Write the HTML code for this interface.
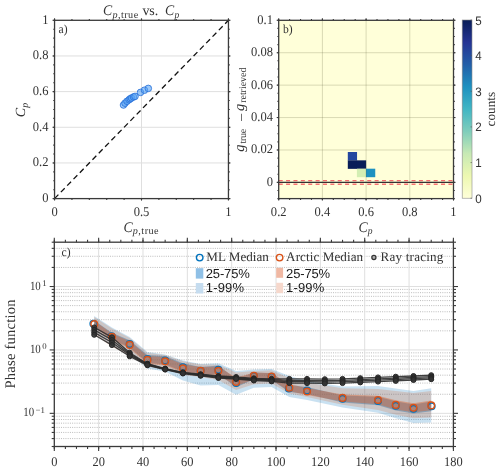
<!DOCTYPE html>
<html><head><meta charset="utf-8"><title>Figure</title>
<style>
html,body{margin:0;padding:0;background:#fff;}
body{width:500px;height:471px;overflow:hidden;font-family:"Liberation Serif",serif;}
svg{display:block;will-change:transform;text-rendering:geometricPrecision;}
</style></head><body>
<svg width="500" height="471" viewBox="0 0 500 471">
<rect width="500" height="471" fill="#fff"/>
<rect x="54.55" y="20.3" width="173.89999999999998" height="178.29999999999998" fill="#fff"/>
<line x1="54.55" y1="162.94" x2="228.45" y2="162.94" stroke="#dfdfdf" stroke-width="1" />
<line x1="54.55" y1="127.28" x2="228.45" y2="127.28" stroke="#dfdfdf" stroke-width="1" />
<line x1="54.55" y1="91.62" x2="228.45" y2="91.62" stroke="#dfdfdf" stroke-width="1" />
<line x1="54.55" y1="55.96" x2="228.45" y2="55.96" stroke="#dfdfdf" stroke-width="1" />
<line x1="141.50" y1="20.30" x2="141.50" y2="198.60" stroke="#dfdfdf" stroke-width="1" />
<line x1="54.55" y1="198.60" x2="228.45" y2="20.30" stroke="#111" stroke-width="1.3" stroke-dasharray="5.5 3.55"/>
<circle cx="123.5" cy="105" r="3.3" fill="#58a3f5" fill-opacity="0.6" stroke="#2c74da" stroke-opacity="0.9" stroke-width="0.95"/>
<circle cx="125" cy="103.2" r="3.3" fill="#58a3f5" fill-opacity="0.6" stroke="#2c74da" stroke-opacity="0.9" stroke-width="0.95"/>
<circle cx="127" cy="101.3" r="3.3" fill="#58a3f5" fill-opacity="0.6" stroke="#2c74da" stroke-opacity="0.9" stroke-width="0.95"/>
<circle cx="129" cy="99.8" r="3.3" fill="#58a3f5" fill-opacity="0.6" stroke="#2c74da" stroke-opacity="0.9" stroke-width="0.95"/>
<circle cx="130.2" cy="98.8" r="3.3" fill="#58a3f5" fill-opacity="0.6" stroke="#2c74da" stroke-opacity="0.9" stroke-width="0.95"/>
<circle cx="131.5" cy="98" r="3.3" fill="#58a3f5" fill-opacity="0.6" stroke="#2c74da" stroke-opacity="0.9" stroke-width="0.95"/>
<circle cx="133.5" cy="97" r="3.3" fill="#58a3f5" fill-opacity="0.6" stroke="#2c74da" stroke-opacity="0.9" stroke-width="0.95"/>
<circle cx="135" cy="96.4" r="3.3" fill="#58a3f5" fill-opacity="0.6" stroke="#2c74da" stroke-opacity="0.9" stroke-width="0.95"/>
<circle cx="140.5" cy="92.4" r="3.3" fill="#58a3f5" fill-opacity="0.6" stroke="#2c74da" stroke-opacity="0.9" stroke-width="0.95"/>
<circle cx="144.5" cy="90.2" r="3.3" fill="#58a3f5" fill-opacity="0.6" stroke="#2c74da" stroke-opacity="0.9" stroke-width="0.95"/>
<circle cx="148.3" cy="88.4" r="3.3" fill="#58a3f5" fill-opacity="0.6" stroke="#2c74da" stroke-opacity="0.9" stroke-width="0.95"/>
<line x1="54.55" y1="198.60" x2="54.55" y2="199.90" stroke="#3a3a3a" stroke-width="1.1" />
<line x1="54.55" y1="20.30" x2="54.55" y2="19.00" stroke="#3a3a3a" stroke-width="1.1" />
<line x1="71.94" y1="198.60" x2="71.94" y2="199.90" stroke="#3a3a3a" stroke-width="1.1" />
<line x1="71.94" y1="20.30" x2="71.94" y2="19.00" stroke="#3a3a3a" stroke-width="1.1" />
<line x1="89.33" y1="198.60" x2="89.33" y2="199.90" stroke="#3a3a3a" stroke-width="1.1" />
<line x1="89.33" y1="20.30" x2="89.33" y2="19.00" stroke="#3a3a3a" stroke-width="1.1" />
<line x1="106.72" y1="198.60" x2="106.72" y2="199.90" stroke="#3a3a3a" stroke-width="1.1" />
<line x1="106.72" y1="20.30" x2="106.72" y2="19.00" stroke="#3a3a3a" stroke-width="1.1" />
<line x1="124.11" y1="198.60" x2="124.11" y2="199.90" stroke="#3a3a3a" stroke-width="1.1" />
<line x1="124.11" y1="20.30" x2="124.11" y2="19.00" stroke="#3a3a3a" stroke-width="1.1" />
<line x1="141.50" y1="198.60" x2="141.50" y2="199.90" stroke="#3a3a3a" stroke-width="1.1" />
<line x1="141.50" y1="20.30" x2="141.50" y2="19.00" stroke="#3a3a3a" stroke-width="1.1" />
<line x1="158.89" y1="198.60" x2="158.89" y2="199.90" stroke="#3a3a3a" stroke-width="1.1" />
<line x1="158.89" y1="20.30" x2="158.89" y2="19.00" stroke="#3a3a3a" stroke-width="1.1" />
<line x1="176.28" y1="198.60" x2="176.28" y2="199.90" stroke="#3a3a3a" stroke-width="1.1" />
<line x1="176.28" y1="20.30" x2="176.28" y2="19.00" stroke="#3a3a3a" stroke-width="1.1" />
<line x1="193.67" y1="198.60" x2="193.67" y2="199.90" stroke="#3a3a3a" stroke-width="1.1" />
<line x1="193.67" y1="20.30" x2="193.67" y2="19.00" stroke="#3a3a3a" stroke-width="1.1" />
<line x1="211.06" y1="198.60" x2="211.06" y2="199.90" stroke="#3a3a3a" stroke-width="1.1" />
<line x1="211.06" y1="20.30" x2="211.06" y2="19.00" stroke="#3a3a3a" stroke-width="1.1" />
<line x1="228.45" y1="198.60" x2="228.45" y2="199.90" stroke="#3a3a3a" stroke-width="1.1" />
<line x1="228.45" y1="20.30" x2="228.45" y2="19.00" stroke="#3a3a3a" stroke-width="1.1" />
<line x1="54.55" y1="198.60" x2="54.55" y2="200.60" stroke="#3a3a3a" stroke-width="1.1" />
<line x1="54.55" y1="20.30" x2="54.55" y2="18.30" stroke="#3a3a3a" stroke-width="1.1" />
<line x1="141.50" y1="198.60" x2="141.50" y2="200.60" stroke="#3a3a3a" stroke-width="1.1" />
<line x1="141.50" y1="20.30" x2="141.50" y2="18.30" stroke="#3a3a3a" stroke-width="1.1" />
<line x1="228.45" y1="198.60" x2="228.45" y2="200.60" stroke="#3a3a3a" stroke-width="1.1" />
<line x1="228.45" y1="20.30" x2="228.45" y2="18.30" stroke="#3a3a3a" stroke-width="1.1" />
<line x1="54.55" y1="198.60" x2="53.25" y2="198.60" stroke="#3a3a3a" stroke-width="1.1" />
<line x1="228.45" y1="198.60" x2="229.75" y2="198.60" stroke="#3a3a3a" stroke-width="1.1" />
<line x1="54.55" y1="189.69" x2="53.25" y2="189.69" stroke="#3a3a3a" stroke-width="1.1" />
<line x1="228.45" y1="189.69" x2="229.75" y2="189.69" stroke="#3a3a3a" stroke-width="1.1" />
<line x1="54.55" y1="180.77" x2="53.25" y2="180.77" stroke="#3a3a3a" stroke-width="1.1" />
<line x1="228.45" y1="180.77" x2="229.75" y2="180.77" stroke="#3a3a3a" stroke-width="1.1" />
<line x1="54.55" y1="171.85" x2="53.25" y2="171.85" stroke="#3a3a3a" stroke-width="1.1" />
<line x1="228.45" y1="171.85" x2="229.75" y2="171.85" stroke="#3a3a3a" stroke-width="1.1" />
<line x1="54.55" y1="162.94" x2="53.25" y2="162.94" stroke="#3a3a3a" stroke-width="1.1" />
<line x1="228.45" y1="162.94" x2="229.75" y2="162.94" stroke="#3a3a3a" stroke-width="1.1" />
<line x1="54.55" y1="154.03" x2="53.25" y2="154.03" stroke="#3a3a3a" stroke-width="1.1" />
<line x1="228.45" y1="154.03" x2="229.75" y2="154.03" stroke="#3a3a3a" stroke-width="1.1" />
<line x1="54.55" y1="145.11" x2="53.25" y2="145.11" stroke="#3a3a3a" stroke-width="1.1" />
<line x1="228.45" y1="145.11" x2="229.75" y2="145.11" stroke="#3a3a3a" stroke-width="1.1" />
<line x1="54.55" y1="136.19" x2="53.25" y2="136.19" stroke="#3a3a3a" stroke-width="1.1" />
<line x1="228.45" y1="136.19" x2="229.75" y2="136.19" stroke="#3a3a3a" stroke-width="1.1" />
<line x1="54.55" y1="127.28" x2="53.25" y2="127.28" stroke="#3a3a3a" stroke-width="1.1" />
<line x1="228.45" y1="127.28" x2="229.75" y2="127.28" stroke="#3a3a3a" stroke-width="1.1" />
<line x1="54.55" y1="118.36" x2="53.25" y2="118.36" stroke="#3a3a3a" stroke-width="1.1" />
<line x1="228.45" y1="118.36" x2="229.75" y2="118.36" stroke="#3a3a3a" stroke-width="1.1" />
<line x1="54.55" y1="109.45" x2="53.25" y2="109.45" stroke="#3a3a3a" stroke-width="1.1" />
<line x1="228.45" y1="109.45" x2="229.75" y2="109.45" stroke="#3a3a3a" stroke-width="1.1" />
<line x1="54.55" y1="100.53" x2="53.25" y2="100.53" stroke="#3a3a3a" stroke-width="1.1" />
<line x1="228.45" y1="100.53" x2="229.75" y2="100.53" stroke="#3a3a3a" stroke-width="1.1" />
<line x1="54.55" y1="91.62" x2="53.25" y2="91.62" stroke="#3a3a3a" stroke-width="1.1" />
<line x1="228.45" y1="91.62" x2="229.75" y2="91.62" stroke="#3a3a3a" stroke-width="1.1" />
<line x1="54.55" y1="82.70" x2="53.25" y2="82.70" stroke="#3a3a3a" stroke-width="1.1" />
<line x1="228.45" y1="82.70" x2="229.75" y2="82.70" stroke="#3a3a3a" stroke-width="1.1" />
<line x1="54.55" y1="73.79" x2="53.25" y2="73.79" stroke="#3a3a3a" stroke-width="1.1" />
<line x1="228.45" y1="73.79" x2="229.75" y2="73.79" stroke="#3a3a3a" stroke-width="1.1" />
<line x1="54.55" y1="64.88" x2="53.25" y2="64.88" stroke="#3a3a3a" stroke-width="1.1" />
<line x1="228.45" y1="64.88" x2="229.75" y2="64.88" stroke="#3a3a3a" stroke-width="1.1" />
<line x1="54.55" y1="55.96" x2="53.25" y2="55.96" stroke="#3a3a3a" stroke-width="1.1" />
<line x1="228.45" y1="55.96" x2="229.75" y2="55.96" stroke="#3a3a3a" stroke-width="1.1" />
<line x1="54.55" y1="47.05" x2="53.25" y2="47.05" stroke="#3a3a3a" stroke-width="1.1" />
<line x1="228.45" y1="47.05" x2="229.75" y2="47.05" stroke="#3a3a3a" stroke-width="1.1" />
<line x1="54.55" y1="38.13" x2="53.25" y2="38.13" stroke="#3a3a3a" stroke-width="1.1" />
<line x1="228.45" y1="38.13" x2="229.75" y2="38.13" stroke="#3a3a3a" stroke-width="1.1" />
<line x1="54.55" y1="29.22" x2="53.25" y2="29.22" stroke="#3a3a3a" stroke-width="1.1" />
<line x1="228.45" y1="29.22" x2="229.75" y2="29.22" stroke="#3a3a3a" stroke-width="1.1" />
<line x1="54.55" y1="20.30" x2="53.25" y2="20.30" stroke="#3a3a3a" stroke-width="1.1" />
<line x1="228.45" y1="20.30" x2="229.75" y2="20.30" stroke="#3a3a3a" stroke-width="1.1" />
<line x1="54.55" y1="198.60" x2="52.55" y2="198.60" stroke="#3a3a3a" stroke-width="1.1" />
<line x1="228.45" y1="198.60" x2="230.45" y2="198.60" stroke="#3a3a3a" stroke-width="1.1" />
<line x1="54.55" y1="162.94" x2="52.55" y2="162.94" stroke="#3a3a3a" stroke-width="1.1" />
<line x1="228.45" y1="162.94" x2="230.45" y2="162.94" stroke="#3a3a3a" stroke-width="1.1" />
<line x1="54.55" y1="127.28" x2="52.55" y2="127.28" stroke="#3a3a3a" stroke-width="1.1" />
<line x1="228.45" y1="127.28" x2="230.45" y2="127.28" stroke="#3a3a3a" stroke-width="1.1" />
<line x1="54.55" y1="91.62" x2="52.55" y2="91.62" stroke="#3a3a3a" stroke-width="1.1" />
<line x1="228.45" y1="91.62" x2="230.45" y2="91.62" stroke="#3a3a3a" stroke-width="1.1" />
<line x1="54.55" y1="55.96" x2="52.55" y2="55.96" stroke="#3a3a3a" stroke-width="1.1" />
<line x1="228.45" y1="55.96" x2="230.45" y2="55.96" stroke="#3a3a3a" stroke-width="1.1" />
<line x1="54.55" y1="20.30" x2="52.55" y2="20.30" stroke="#3a3a3a" stroke-width="1.1" />
<line x1="228.45" y1="20.30" x2="230.45" y2="20.30" stroke="#3a3a3a" stroke-width="1.1" />
<rect x="54.55" y="20.3" width="173.89999999999998" height="178.29999999999998" fill="none" stroke="#3a3a3a" stroke-width="1.3"/>
<text transform="translate(48.50,202.10) scale(0.9434,1)" font-size="13.3" text-anchor="end" font-family="Liberation Serif, serif" fill="#333333" >0</text>
<text transform="translate(48.50,166.44) scale(0.9434,1)" font-size="13.3" text-anchor="end" font-family="Liberation Serif, serif" fill="#333333" >0.2</text>
<text transform="translate(48.50,130.78) scale(0.9434,1)" font-size="13.3" text-anchor="end" font-family="Liberation Serif, serif" fill="#333333" >0.4</text>
<text transform="translate(48.50,95.12) scale(0.9434,1)" font-size="13.3" text-anchor="end" font-family="Liberation Serif, serif" fill="#333333" >0.6</text>
<text transform="translate(48.50,59.46) scale(0.9434,1)" font-size="13.3" text-anchor="end" font-family="Liberation Serif, serif" fill="#333333" >0.8</text>
<text transform="translate(48.50,23.80) scale(0.9434,1)" font-size="13.3" text-anchor="end" font-family="Liberation Serif, serif" fill="#333333" >1</text>
<text transform="translate(54.55,215.80) scale(0.9434,1)" font-size="13.3" text-anchor="middle" font-family="Liberation Serif, serif" fill="#333333" >0</text>
<text transform="translate(141.50,215.80) scale(0.9434,1)" font-size="13.3" text-anchor="middle" font-family="Liberation Serif, serif" fill="#333333" >0.5</text>
<text transform="translate(228.45,215.80) scale(0.9434,1)" font-size="13.3" text-anchor="middle" font-family="Liberation Serif, serif" fill="#333333" >1</text>
<text transform="translate(58.50,32.80) scale(0.9434,1)" font-size="12.3" text-anchor="start" font-family="Liberation Serif, serif" fill="#333333" >a)</text>
<text transform="translate(103.00,15.40) scale(0.9434,1)" font-size="14.6" text-anchor="start" font-family="Liberation Serif, serif" fill="#333333" font-style="italic">C</text>
<text x="112.4" y="18" font-size="10.2" font-family="Liberation Serif, serif" fill="#333333" textLength="25.8" lengthAdjust="spacing"><tspan font-style="italic">p</tspan>,true</text>
<text x="142.4" y="15.4" font-size="14" font-family="Liberation Serif, serif" fill="#333333" textLength="15.8" lengthAdjust="spacing">vs.</text>
<text transform="translate(165.00,15.40) scale(0.9434,1)" font-size="14.6" text-anchor="start" font-family="Liberation Serif, serif" fill="#333333" font-style="italic">C</text>
<text transform="translate(174.40,18.00) scale(0.9434,1)" font-size="10.2" text-anchor="start" font-family="Liberation Serif, serif" fill="#333333" font-style="italic">p</text>
<text transform="translate(123.40,231.50) scale(0.9434,1)" font-size="14.6" text-anchor="start" font-family="Liberation Serif, serif" fill="#333333" font-style="italic">C</text>
<text x="132.8" y="234.1" font-size="10.2" font-family="Liberation Serif, serif" fill="#333333" textLength="25.8" lengthAdjust="spacing"><tspan font-style="italic">p</tspan>,true</text>
<text transform="translate(25,110) rotate(-90)" font-size="14" text-anchor="middle" font-family="Liberation Serif, serif" fill="#333333"><tspan font-style="italic">C</tspan><tspan font-size="10" dy="2.6" font-style="italic">p</tspan></text>
<rect x="278.7" y="20.3" width="174.8" height="178.29999999999998" fill="#ffffd9"/>
<rect x="347.80" y="152.00" width="9.25" height="8.5" fill="#24479f"/>
<rect x="347.80" y="160.35" width="9.25" height="8.5" fill="#081d58"/>
<rect x="356.90" y="160.35" width="9.25" height="8.5" fill="#081d58"/>
<rect x="356.90" y="168.70" width="9.25" height="8.5" fill="#d3eeb3"/>
<rect x="366.00" y="168.70" width="9.25" height="8.5" fill="#1d91c0"/>
<line x1="278.70" y1="182.39" x2="453.50" y2="182.39" stroke="#555533" stroke-width="1" stroke-opacity="0.22"/>
<line x1="278.70" y1="149.97" x2="453.50" y2="149.97" stroke="#555533" stroke-width="1" stroke-opacity="0.22"/>
<line x1="278.70" y1="117.55" x2="453.50" y2="117.55" stroke="#555533" stroke-width="1" stroke-opacity="0.22"/>
<line x1="278.70" y1="85.14" x2="453.50" y2="85.14" stroke="#555533" stroke-width="1" stroke-opacity="0.22"/>
<line x1="278.70" y1="52.72" x2="453.50" y2="52.72" stroke="#555533" stroke-width="1" stroke-opacity="0.22"/>
<line x1="322.40" y1="20.30" x2="322.40" y2="198.60" stroke="#555533" stroke-width="1" stroke-opacity="0.22"/>
<line x1="366.10" y1="20.30" x2="366.10" y2="198.60" stroke="#555533" stroke-width="1" stroke-opacity="0.22"/>
<line x1="409.80" y1="20.30" x2="409.80" y2="198.60" stroke="#555533" stroke-width="1" stroke-opacity="0.22"/>
<line x1="278.70" y1="180.69" x2="453.50" y2="180.69" stroke="#f56c6c" stroke-width="1.2" stroke-dasharray="4 3.38"/>
<line x1="278.70" y1="184.19" x2="453.50" y2="184.19" stroke="#f67474" stroke-width="1.6" stroke-dasharray="4 3.38"/>
<line x1="278.70" y1="182.39" x2="453.50" y2="182.39" stroke="#333" stroke-width="1.1" />
<line x1="278.70" y1="198.60" x2="278.70" y2="199.90" stroke="#3a3a3a" stroke-width="1.1" />
<line x1="278.70" y1="20.30" x2="278.70" y2="19.00" stroke="#3a3a3a" stroke-width="1.1" />
<line x1="289.62" y1="198.60" x2="289.62" y2="199.90" stroke="#3a3a3a" stroke-width="1.1" />
<line x1="289.62" y1="20.30" x2="289.62" y2="19.00" stroke="#3a3a3a" stroke-width="1.1" />
<line x1="300.55" y1="198.60" x2="300.55" y2="199.90" stroke="#3a3a3a" stroke-width="1.1" />
<line x1="300.55" y1="20.30" x2="300.55" y2="19.00" stroke="#3a3a3a" stroke-width="1.1" />
<line x1="311.48" y1="198.60" x2="311.48" y2="199.90" stroke="#3a3a3a" stroke-width="1.1" />
<line x1="311.48" y1="20.30" x2="311.48" y2="19.00" stroke="#3a3a3a" stroke-width="1.1" />
<line x1="322.40" y1="198.60" x2="322.40" y2="199.90" stroke="#3a3a3a" stroke-width="1.1" />
<line x1="322.40" y1="20.30" x2="322.40" y2="19.00" stroke="#3a3a3a" stroke-width="1.1" />
<line x1="333.32" y1="198.60" x2="333.32" y2="199.90" stroke="#3a3a3a" stroke-width="1.1" />
<line x1="333.32" y1="20.30" x2="333.32" y2="19.00" stroke="#3a3a3a" stroke-width="1.1" />
<line x1="344.25" y1="198.60" x2="344.25" y2="199.90" stroke="#3a3a3a" stroke-width="1.1" />
<line x1="344.25" y1="20.30" x2="344.25" y2="19.00" stroke="#3a3a3a" stroke-width="1.1" />
<line x1="355.18" y1="198.60" x2="355.18" y2="199.90" stroke="#3a3a3a" stroke-width="1.1" />
<line x1="355.18" y1="20.30" x2="355.18" y2="19.00" stroke="#3a3a3a" stroke-width="1.1" />
<line x1="366.10" y1="198.60" x2="366.10" y2="199.90" stroke="#3a3a3a" stroke-width="1.1" />
<line x1="366.10" y1="20.30" x2="366.10" y2="19.00" stroke="#3a3a3a" stroke-width="1.1" />
<line x1="377.02" y1="198.60" x2="377.02" y2="199.90" stroke="#3a3a3a" stroke-width="1.1" />
<line x1="377.02" y1="20.30" x2="377.02" y2="19.00" stroke="#3a3a3a" stroke-width="1.1" />
<line x1="387.95" y1="198.60" x2="387.95" y2="199.90" stroke="#3a3a3a" stroke-width="1.1" />
<line x1="387.95" y1="20.30" x2="387.95" y2="19.00" stroke="#3a3a3a" stroke-width="1.1" />
<line x1="398.88" y1="198.60" x2="398.88" y2="199.90" stroke="#3a3a3a" stroke-width="1.1" />
<line x1="398.88" y1="20.30" x2="398.88" y2="19.00" stroke="#3a3a3a" stroke-width="1.1" />
<line x1="409.80" y1="198.60" x2="409.80" y2="199.90" stroke="#3a3a3a" stroke-width="1.1" />
<line x1="409.80" y1="20.30" x2="409.80" y2="19.00" stroke="#3a3a3a" stroke-width="1.1" />
<line x1="420.73" y1="198.60" x2="420.73" y2="199.90" stroke="#3a3a3a" stroke-width="1.1" />
<line x1="420.73" y1="20.30" x2="420.73" y2="19.00" stroke="#3a3a3a" stroke-width="1.1" />
<line x1="431.65" y1="198.60" x2="431.65" y2="199.90" stroke="#3a3a3a" stroke-width="1.1" />
<line x1="431.65" y1="20.30" x2="431.65" y2="19.00" stroke="#3a3a3a" stroke-width="1.1" />
<line x1="442.58" y1="198.60" x2="442.58" y2="199.90" stroke="#3a3a3a" stroke-width="1.1" />
<line x1="442.58" y1="20.30" x2="442.58" y2="19.00" stroke="#3a3a3a" stroke-width="1.1" />
<line x1="453.50" y1="198.60" x2="453.50" y2="199.90" stroke="#3a3a3a" stroke-width="1.1" />
<line x1="453.50" y1="20.30" x2="453.50" y2="19.00" stroke="#3a3a3a" stroke-width="1.1" />
<line x1="278.70" y1="198.60" x2="278.70" y2="200.60" stroke="#3a3a3a" stroke-width="1.1" />
<line x1="278.70" y1="20.30" x2="278.70" y2="18.30" stroke="#3a3a3a" stroke-width="1.1" />
<line x1="322.40" y1="198.60" x2="322.40" y2="200.60" stroke="#3a3a3a" stroke-width="1.1" />
<line x1="322.40" y1="20.30" x2="322.40" y2="18.30" stroke="#3a3a3a" stroke-width="1.1" />
<line x1="366.10" y1="198.60" x2="366.10" y2="200.60" stroke="#3a3a3a" stroke-width="1.1" />
<line x1="366.10" y1="20.30" x2="366.10" y2="18.30" stroke="#3a3a3a" stroke-width="1.1" />
<line x1="409.80" y1="198.60" x2="409.80" y2="200.60" stroke="#3a3a3a" stroke-width="1.1" />
<line x1="409.80" y1="20.30" x2="409.80" y2="18.30" stroke="#3a3a3a" stroke-width="1.1" />
<line x1="453.50" y1="198.60" x2="453.50" y2="200.60" stroke="#3a3a3a" stroke-width="1.1" />
<line x1="453.50" y1="20.30" x2="453.50" y2="18.30" stroke="#3a3a3a" stroke-width="1.1" />
<line x1="278.70" y1="198.60" x2="277.40" y2="198.60" stroke="#3a3a3a" stroke-width="1.1" />
<line x1="453.50" y1="198.60" x2="454.80" y2="198.60" stroke="#3a3a3a" stroke-width="1.1" />
<line x1="278.70" y1="190.50" x2="277.40" y2="190.50" stroke="#3a3a3a" stroke-width="1.1" />
<line x1="453.50" y1="190.50" x2="454.80" y2="190.50" stroke="#3a3a3a" stroke-width="1.1" />
<line x1="278.70" y1="182.39" x2="277.40" y2="182.39" stroke="#3a3a3a" stroke-width="1.1" />
<line x1="453.50" y1="182.39" x2="454.80" y2="182.39" stroke="#3a3a3a" stroke-width="1.1" />
<line x1="278.70" y1="174.29" x2="277.40" y2="174.29" stroke="#3a3a3a" stroke-width="1.1" />
<line x1="453.50" y1="174.29" x2="454.80" y2="174.29" stroke="#3a3a3a" stroke-width="1.1" />
<line x1="278.70" y1="166.18" x2="277.40" y2="166.18" stroke="#3a3a3a" stroke-width="1.1" />
<line x1="453.50" y1="166.18" x2="454.80" y2="166.18" stroke="#3a3a3a" stroke-width="1.1" />
<line x1="278.70" y1="158.08" x2="277.40" y2="158.08" stroke="#3a3a3a" stroke-width="1.1" />
<line x1="453.50" y1="158.08" x2="454.80" y2="158.08" stroke="#3a3a3a" stroke-width="1.1" />
<line x1="278.70" y1="149.97" x2="277.40" y2="149.97" stroke="#3a3a3a" stroke-width="1.1" />
<line x1="453.50" y1="149.97" x2="454.80" y2="149.97" stroke="#3a3a3a" stroke-width="1.1" />
<line x1="278.70" y1="141.87" x2="277.40" y2="141.87" stroke="#3a3a3a" stroke-width="1.1" />
<line x1="453.50" y1="141.87" x2="454.80" y2="141.87" stroke="#3a3a3a" stroke-width="1.1" />
<line x1="278.70" y1="133.76" x2="277.40" y2="133.76" stroke="#3a3a3a" stroke-width="1.1" />
<line x1="453.50" y1="133.76" x2="454.80" y2="133.76" stroke="#3a3a3a" stroke-width="1.1" />
<line x1="278.70" y1="125.66" x2="277.40" y2="125.66" stroke="#3a3a3a" stroke-width="1.1" />
<line x1="453.50" y1="125.66" x2="454.80" y2="125.66" stroke="#3a3a3a" stroke-width="1.1" />
<line x1="278.70" y1="117.55" x2="277.40" y2="117.55" stroke="#3a3a3a" stroke-width="1.1" />
<line x1="453.50" y1="117.55" x2="454.80" y2="117.55" stroke="#3a3a3a" stroke-width="1.1" />
<line x1="278.70" y1="109.45" x2="277.40" y2="109.45" stroke="#3a3a3a" stroke-width="1.1" />
<line x1="453.50" y1="109.45" x2="454.80" y2="109.45" stroke="#3a3a3a" stroke-width="1.1" />
<line x1="278.70" y1="101.35" x2="277.40" y2="101.35" stroke="#3a3a3a" stroke-width="1.1" />
<line x1="453.50" y1="101.35" x2="454.80" y2="101.35" stroke="#3a3a3a" stroke-width="1.1" />
<line x1="278.70" y1="93.24" x2="277.40" y2="93.24" stroke="#3a3a3a" stroke-width="1.1" />
<line x1="453.50" y1="93.24" x2="454.80" y2="93.24" stroke="#3a3a3a" stroke-width="1.1" />
<line x1="278.70" y1="85.14" x2="277.40" y2="85.14" stroke="#3a3a3a" stroke-width="1.1" />
<line x1="453.50" y1="85.14" x2="454.80" y2="85.14" stroke="#3a3a3a" stroke-width="1.1" />
<line x1="278.70" y1="77.03" x2="277.40" y2="77.03" stroke="#3a3a3a" stroke-width="1.1" />
<line x1="453.50" y1="77.03" x2="454.80" y2="77.03" stroke="#3a3a3a" stroke-width="1.1" />
<line x1="278.70" y1="68.93" x2="277.40" y2="68.93" stroke="#3a3a3a" stroke-width="1.1" />
<line x1="453.50" y1="68.93" x2="454.80" y2="68.93" stroke="#3a3a3a" stroke-width="1.1" />
<line x1="278.70" y1="60.82" x2="277.40" y2="60.82" stroke="#3a3a3a" stroke-width="1.1" />
<line x1="453.50" y1="60.82" x2="454.80" y2="60.82" stroke="#3a3a3a" stroke-width="1.1" />
<line x1="278.70" y1="52.72" x2="277.40" y2="52.72" stroke="#3a3a3a" stroke-width="1.1" />
<line x1="453.50" y1="52.72" x2="454.80" y2="52.72" stroke="#3a3a3a" stroke-width="1.1" />
<line x1="278.70" y1="44.61" x2="277.40" y2="44.61" stroke="#3a3a3a" stroke-width="1.1" />
<line x1="453.50" y1="44.61" x2="454.80" y2="44.61" stroke="#3a3a3a" stroke-width="1.1" />
<line x1="278.70" y1="36.51" x2="277.40" y2="36.51" stroke="#3a3a3a" stroke-width="1.1" />
<line x1="453.50" y1="36.51" x2="454.80" y2="36.51" stroke="#3a3a3a" stroke-width="1.1" />
<line x1="278.70" y1="28.40" x2="277.40" y2="28.40" stroke="#3a3a3a" stroke-width="1.1" />
<line x1="453.50" y1="28.40" x2="454.80" y2="28.40" stroke="#3a3a3a" stroke-width="1.1" />
<line x1="278.70" y1="20.30" x2="277.40" y2="20.30" stroke="#3a3a3a" stroke-width="1.1" />
<line x1="453.50" y1="20.30" x2="454.80" y2="20.30" stroke="#3a3a3a" stroke-width="1.1" />
<line x1="278.70" y1="182.39" x2="276.70" y2="182.39" stroke="#3a3a3a" stroke-width="1.1" />
<line x1="453.50" y1="182.39" x2="455.50" y2="182.39" stroke="#3a3a3a" stroke-width="1.1" />
<line x1="278.70" y1="149.97" x2="276.70" y2="149.97" stroke="#3a3a3a" stroke-width="1.1" />
<line x1="453.50" y1="149.97" x2="455.50" y2="149.97" stroke="#3a3a3a" stroke-width="1.1" />
<line x1="278.70" y1="117.55" x2="276.70" y2="117.55" stroke="#3a3a3a" stroke-width="1.1" />
<line x1="453.50" y1="117.55" x2="455.50" y2="117.55" stroke="#3a3a3a" stroke-width="1.1" />
<line x1="278.70" y1="85.14" x2="276.70" y2="85.14" stroke="#3a3a3a" stroke-width="1.1" />
<line x1="453.50" y1="85.14" x2="455.50" y2="85.14" stroke="#3a3a3a" stroke-width="1.1" />
<line x1="278.70" y1="52.72" x2="276.70" y2="52.72" stroke="#3a3a3a" stroke-width="1.1" />
<line x1="453.50" y1="52.72" x2="455.50" y2="52.72" stroke="#3a3a3a" stroke-width="1.1" />
<line x1="278.70" y1="20.30" x2="276.70" y2="20.30" stroke="#3a3a3a" stroke-width="1.1" />
<line x1="453.50" y1="20.30" x2="455.50" y2="20.30" stroke="#3a3a3a" stroke-width="1.1" />
<rect x="278.7" y="20.3" width="174.8" height="178.29999999999998" fill="none" stroke="#3a3a3a" stroke-width="1.3"/>
<text transform="translate(273.00,185.89) scale(0.9434,1)" font-size="13.3" text-anchor="end" font-family="Liberation Serif, serif" fill="#333333" >0</text>
<text transform="translate(273.00,153.47) scale(0.9434,1)" font-size="13.3" text-anchor="end" font-family="Liberation Serif, serif" fill="#333333" >0.02</text>
<text transform="translate(273.00,121.05) scale(0.9434,1)" font-size="13.3" text-anchor="end" font-family="Liberation Serif, serif" fill="#333333" >0.04</text>
<text transform="translate(273.00,88.64) scale(0.9434,1)" font-size="13.3" text-anchor="end" font-family="Liberation Serif, serif" fill="#333333" >0.06</text>
<text transform="translate(273.00,56.22) scale(0.9434,1)" font-size="13.3" text-anchor="end" font-family="Liberation Serif, serif" fill="#333333" >0.08</text>
<text transform="translate(273.00,23.80) scale(0.9434,1)" font-size="13.3" text-anchor="end" font-family="Liberation Serif, serif" fill="#333333" >0.1</text>
<text transform="translate(278.70,215.80) scale(0.9434,1)" font-size="13.3" text-anchor="middle" font-family="Liberation Serif, serif" fill="#333333" >0.2</text>
<text transform="translate(322.40,215.80) scale(0.9434,1)" font-size="13.3" text-anchor="middle" font-family="Liberation Serif, serif" fill="#333333" >0.4</text>
<text transform="translate(366.10,215.80) scale(0.9434,1)" font-size="13.3" text-anchor="middle" font-family="Liberation Serif, serif" fill="#333333" >0.6</text>
<text transform="translate(409.80,215.80) scale(0.9434,1)" font-size="13.3" text-anchor="middle" font-family="Liberation Serif, serif" fill="#333333" >0.8</text>
<text transform="translate(453.50,215.80) scale(0.9434,1)" font-size="13.3" text-anchor="middle" font-family="Liberation Serif, serif" fill="#333333" >1</text>
<text transform="translate(283.00,32.80) scale(0.9434,1)" font-size="12.3" text-anchor="start" font-family="Liberation Serif, serif" fill="#333333" >b)</text>
<text transform="translate(358.40,231.50) scale(0.9434,1)" font-size="14.6" text-anchor="start" font-family="Liberation Serif, serif" fill="#333333" font-style="italic">C</text>
<text transform="translate(367.80,234.10) scale(0.9434,1)" font-size="10.2" text-anchor="start" font-family="Liberation Serif, serif" fill="#333333" font-style="italic">p</text>
<g transform="translate(243.8,110) rotate(-90)" font-family="Liberation Serif, serif" fill="#333333"><text x="-41.8" y="0" font-size="14.6" font-style="italic">g</text><text x="-33.6" y="2.6" font-size="10" textLength="14.8" lengthAdjust="spacing">true</text><text x="-11.8" y="2.4" font-size="14" textLength="8.7" lengthAdjust="spacingAndGlyphs">−</text><text x="-1" y="0" font-size="14.6" font-style="italic">g</text><text x="7.2" y="2.6" font-size="10" textLength="35.2" lengthAdjust="spacing">retrieved</text></g>
<defs><linearGradient id="cb" x1="0" y1="1" x2="0" y2="0">
<stop offset="0.0000" stop-color="#ffffd9"/>
<stop offset="0.1250" stop-color="#edf8b1"/>
<stop offset="0.2500" stop-color="#c7e9b4"/>
<stop offset="0.3750" stop-color="#7fcdbb"/>
<stop offset="0.5000" stop-color="#41b6c4"/>
<stop offset="0.6250" stop-color="#1d91c0"/>
<stop offset="0.7500" stop-color="#225ea8"/>
<stop offset="0.8750" stop-color="#253494"/>
<stop offset="1.0000" stop-color="#081d58"/>
</linearGradient></defs>
<rect x="462.2" y="20.0" width="9.800000000000011" height="178.2" fill="url(#cb)" stroke="#8a8a8a" stroke-width="0.6"/>
<text transform="translate(475.30,202.70) scale(0.9434,1)" font-size="12.3" text-anchor="start" font-family="Liberation Sans, sans-serif" fill="#333333" >0</text>
<line x1="470.50" y1="198.20" x2="472.00" y2="198.20" stroke="#555" stroke-width="0.6" />
<text transform="translate(475.30,167.06) scale(0.9434,1)" font-size="12.3" text-anchor="start" font-family="Liberation Sans, sans-serif" fill="#333333" >1</text>
<line x1="470.50" y1="162.56" x2="472.00" y2="162.56" stroke="#555" stroke-width="0.6" />
<text transform="translate(475.30,131.42) scale(0.9434,1)" font-size="12.3" text-anchor="start" font-family="Liberation Sans, sans-serif" fill="#333333" >2</text>
<line x1="470.50" y1="126.92" x2="472.00" y2="126.92" stroke="#555" stroke-width="0.6" />
<text transform="translate(475.30,95.78) scale(0.9434,1)" font-size="12.3" text-anchor="start" font-family="Liberation Sans, sans-serif" fill="#333333" >3</text>
<line x1="470.50" y1="91.28" x2="472.00" y2="91.28" stroke="#555" stroke-width="0.6" />
<text transform="translate(475.30,60.14) scale(0.9434,1)" font-size="12.3" text-anchor="start" font-family="Liberation Sans, sans-serif" fill="#333333" >4</text>
<line x1="470.50" y1="55.64" x2="472.00" y2="55.64" stroke="#555" stroke-width="0.6" />
<text transform="translate(475.30,24.50) scale(0.9434,1)" font-size="12.3" text-anchor="start" font-family="Liberation Sans, sans-serif" fill="#333333" >5</text>
<line x1="470.50" y1="20.00" x2="472.00" y2="20.00" stroke="#555" stroke-width="0.6" />
<text transform="translate(495.4,126.4) rotate(-90)" font-size="13.2" text-anchor="start" font-family="Liberation Serif, serif" fill="#333333" textLength="34.6" lengthAdjust="spacing">counts</text>
<rect x="54.3" y="242.2" width="399.09999999999997" height="204.3" fill="#fff"/>
<line x1="54.30" y1="438.58" x2="453.40" y2="438.58" stroke="#bcbcbc" stroke-width="1" stroke-dasharray="1 1.23"/>
<line x1="54.30" y1="432.43" x2="453.40" y2="432.43" stroke="#bcbcbc" stroke-width="1" stroke-dasharray="1 1.23"/>
<line x1="54.30" y1="427.41" x2="453.40" y2="427.41" stroke="#bcbcbc" stroke-width="1" stroke-dasharray="1 1.23"/>
<line x1="54.30" y1="423.17" x2="453.40" y2="423.17" stroke="#bcbcbc" stroke-width="1" stroke-dasharray="1 1.23"/>
<line x1="54.30" y1="419.49" x2="453.40" y2="419.49" stroke="#bcbcbc" stroke-width="1" stroke-dasharray="1 1.23"/>
<line x1="54.30" y1="416.25" x2="453.40" y2="416.25" stroke="#bcbcbc" stroke-width="1" stroke-dasharray="1 1.23"/>
<line x1="54.30" y1="394.26" x2="453.40" y2="394.26" stroke="#bcbcbc" stroke-width="1" stroke-dasharray="1 1.23"/>
<line x1="54.30" y1="383.09" x2="453.40" y2="383.09" stroke="#bcbcbc" stroke-width="1" stroke-dasharray="1 1.23"/>
<line x1="54.30" y1="375.17" x2="453.40" y2="375.17" stroke="#bcbcbc" stroke-width="1" stroke-dasharray="1 1.23"/>
<line x1="54.30" y1="369.02" x2="453.40" y2="369.02" stroke="#bcbcbc" stroke-width="1" stroke-dasharray="1 1.23"/>
<line x1="54.30" y1="364.00" x2="453.40" y2="364.00" stroke="#bcbcbc" stroke-width="1" stroke-dasharray="1 1.23"/>
<line x1="54.30" y1="359.76" x2="453.40" y2="359.76" stroke="#bcbcbc" stroke-width="1" stroke-dasharray="1 1.23"/>
<line x1="54.30" y1="356.08" x2="453.40" y2="356.08" stroke="#bcbcbc" stroke-width="1" stroke-dasharray="1 1.23"/>
<line x1="54.30" y1="352.83" x2="453.40" y2="352.83" stroke="#bcbcbc" stroke-width="1" stroke-dasharray="1 1.23"/>
<line x1="54.30" y1="330.84" x2="453.40" y2="330.84" stroke="#bcbcbc" stroke-width="1" stroke-dasharray="1 1.23"/>
<line x1="54.30" y1="319.68" x2="453.40" y2="319.68" stroke="#bcbcbc" stroke-width="1" stroke-dasharray="1 1.23"/>
<line x1="54.30" y1="311.76" x2="453.40" y2="311.76" stroke="#bcbcbc" stroke-width="1" stroke-dasharray="1 1.23"/>
<line x1="54.30" y1="305.61" x2="453.40" y2="305.61" stroke="#bcbcbc" stroke-width="1" stroke-dasharray="1 1.23"/>
<line x1="54.30" y1="300.59" x2="453.40" y2="300.59" stroke="#bcbcbc" stroke-width="1" stroke-dasharray="1 1.23"/>
<line x1="54.30" y1="296.34" x2="453.40" y2="296.34" stroke="#bcbcbc" stroke-width="1" stroke-dasharray="1 1.23"/>
<line x1="54.30" y1="292.67" x2="453.40" y2="292.67" stroke="#bcbcbc" stroke-width="1" stroke-dasharray="1 1.23"/>
<line x1="54.30" y1="289.42" x2="453.40" y2="289.42" stroke="#bcbcbc" stroke-width="1" stroke-dasharray="1 1.23"/>
<line x1="54.30" y1="267.43" x2="453.40" y2="267.43" stroke="#bcbcbc" stroke-width="1" stroke-dasharray="1 1.23"/>
<line x1="54.30" y1="256.27" x2="453.40" y2="256.27" stroke="#bcbcbc" stroke-width="1" stroke-dasharray="1 1.23"/>
<line x1="54.30" y1="248.35" x2="453.40" y2="248.35" stroke="#bcbcbc" stroke-width="1" stroke-dasharray="1 1.23"/>
<line x1="54.30" y1="413.34" x2="453.40" y2="413.34" stroke="#dfdfdf" stroke-width="1" />
<line x1="54.30" y1="349.93" x2="453.40" y2="349.93" stroke="#dfdfdf" stroke-width="1" />
<line x1="54.30" y1="286.52" x2="453.40" y2="286.52" stroke="#dfdfdf" stroke-width="1" />
<line x1="98.64" y1="242.20" x2="98.64" y2="446.50" stroke="#dfdfdf" stroke-width="1" />
<line x1="142.99" y1="242.20" x2="142.99" y2="446.50" stroke="#dfdfdf" stroke-width="1" />
<line x1="187.33" y1="242.20" x2="187.33" y2="446.50" stroke="#dfdfdf" stroke-width="1" />
<line x1="231.68" y1="242.20" x2="231.68" y2="446.50" stroke="#dfdfdf" stroke-width="1" />
<line x1="276.02" y1="242.20" x2="276.02" y2="446.50" stroke="#dfdfdf" stroke-width="1" />
<line x1="320.37" y1="242.20" x2="320.37" y2="446.50" stroke="#dfdfdf" stroke-width="1" />
<line x1="364.71" y1="242.20" x2="364.71" y2="446.50" stroke="#dfdfdf" stroke-width="1" />
<line x1="409.06" y1="242.20" x2="409.06" y2="446.50" stroke="#dfdfdf" stroke-width="1" />
<polygon points="94.21,316.00 111.95,327.50 129.69,337.00 147.42,352.00 165.16,354.50 182.90,360.50 200.64,364.00 218.37,363.30 236.11,371.00 253.85,369.60 271.59,368.90 289.33,376.10 307.06,381.00 342.54,386.60 378.01,386.00 395.75,388.50 413.49,391.00 431.23,388.20 431.23,422.50 413.49,423.00 395.75,418.30 378.01,412.70 342.54,407.60 307.06,399.90 289.33,397.10 271.59,387.10 253.85,387.80 236.11,394.80 218.37,385.00 200.64,385.50 182.90,380.60 165.16,371.50 147.42,368.50 129.69,354.00 111.95,346.00 94.21,333.00" fill="#0072bd" fill-opacity="0.21"/>
<polygon points="94.21,320.58 111.95,332.85 129.69,340.31 147.42,355.11 165.16,356.11 182.90,363.21 200.64,367.10 218.37,365.51 236.11,378.91 253.85,372.62 271.59,373.22 289.33,384.97 307.06,387.01 342.54,395.39 378.01,396.79 395.75,401.19 413.49,404.40 431.23,401.49 431.23,411.29 413.49,413.40 395.75,410.59 378.01,405.19 342.54,402.39 307.06,394.01 289.33,391.97 271.59,380.22 253.85,379.62 236.11,387.31 218.37,373.91 200.64,374.30 182.90,371.21 165.16,364.51 147.42,362.71 129.69,347.51 111.95,339.45 94.21,326.98" fill="#0072bd" fill-opacity="0.4"/>
<polygon points="94.21,317.00 111.95,328.50 129.69,338.00 147.42,353.00 165.16,355.00 182.90,361.20 200.64,364.60 218.37,364.70 236.11,372.40 253.85,371.00 271.59,370.30 289.33,378.00 307.06,382.40 342.54,388.20 378.01,388.90 395.75,391.00 413.49,393.10 431.23,391.00 431.23,417.60 413.49,418.30 395.75,414.80 378.01,410.00 342.54,404.80 307.06,397.10 289.33,393.60 271.59,383.60 253.85,384.30 236.11,389.90 218.37,380.10 200.64,377.00 182.90,375.00 165.16,368.50 147.42,367.00 129.69,355.00 111.95,347.00 94.21,334.00" fill="#d95319" fill-opacity="0.2"/>
<polygon points="94.21,320.80 111.95,333.40 129.69,341.30 147.42,356.10 165.16,357.10 182.90,364.20 200.64,367.10 218.37,366.50 236.11,377.70 253.85,372.40 271.59,373.00 289.33,384.20 307.06,388.00 342.54,394.40 378.01,395.80 395.75,400.20 413.49,403.30 431.23,400.50 431.23,410.30 413.49,412.30 395.75,409.60 378.01,404.20 342.54,401.40 307.06,395.00 289.33,391.20 271.59,380.00 253.85,379.40 236.11,386.10 218.37,374.90 200.64,374.30 182.90,372.20 165.16,365.50 147.42,363.70 129.69,348.50 111.95,340.00 94.21,327.20" fill="#d95319" fill-opacity="0.38"/>
<circle cx="93.41" cy="323.80" r="3.3" fill="none" stroke="#0072bd" stroke-width="1.45"/>
<circle cx="111.65" cy="336.20" r="3.3" fill="none" stroke="#0072bd" stroke-width="1.45"/>
<circle cx="129.69" cy="344.00" r="3.3" fill="none" stroke="#0072bd" stroke-width="1.45"/>
<circle cx="147.42" cy="359.00" r="3.3" fill="none" stroke="#0072bd" stroke-width="1.45"/>
<circle cx="165.16" cy="360.40" r="3.3" fill="none" stroke="#0072bd" stroke-width="1.45"/>
<circle cx="182.90" cy="367.30" r="3.3" fill="none" stroke="#0072bd" stroke-width="1.45"/>
<circle cx="200.64" cy="370.70" r="3.3" fill="none" stroke="#0072bd" stroke-width="1.45"/>
<circle cx="218.37" cy="369.80" r="3.3" fill="none" stroke="#0072bd" stroke-width="1.45"/>
<circle cx="236.11" cy="383.00" r="3.3" fill="none" stroke="#0072bd" stroke-width="1.45"/>
<circle cx="253.85" cy="376.10" r="3.3" fill="none" stroke="#0072bd" stroke-width="1.45"/>
<circle cx="271.59" cy="376.70" r="3.3" fill="none" stroke="#0072bd" stroke-width="1.45"/>
<circle cx="288.83" cy="388.40" r="3.3" fill="none" stroke="#0072bd" stroke-width="1.45"/>
<circle cx="307.06" cy="390.60" r="3.3" fill="none" stroke="#0072bd" stroke-width="1.45"/>
<circle cx="342.54" cy="398.80" r="3.3" fill="none" stroke="#0072bd" stroke-width="1.45"/>
<circle cx="378.01" cy="400.90" r="3.3" fill="none" stroke="#0072bd" stroke-width="1.45"/>
<circle cx="395.75" cy="405.80" r="3.3" fill="none" stroke="#0072bd" stroke-width="1.45"/>
<circle cx="413.49" cy="408.80" r="3.3" fill="none" stroke="#0072bd" stroke-width="1.45"/>
<circle cx="431.63" cy="406.30" r="3.3" fill="none" stroke="#0072bd" stroke-width="1.45"/>
<circle cx="94.21" cy="324.00" r="3.3" fill="none" stroke="#d95319" stroke-width="1.5"/>
<circle cx="111.95" cy="336.70" r="3.3" fill="none" stroke="#d95319" stroke-width="1.5"/>
<circle cx="129.69" cy="344.90" r="3.3" fill="none" stroke="#d95319" stroke-width="1.5"/>
<circle cx="147.42" cy="359.90" r="3.3" fill="none" stroke="#d95319" stroke-width="1.5"/>
<circle cx="165.16" cy="361.30" r="3.3" fill="none" stroke="#d95319" stroke-width="1.5"/>
<circle cx="182.90" cy="368.20" r="3.3" fill="none" stroke="#d95319" stroke-width="1.5"/>
<circle cx="200.64" cy="370.70" r="3.3" fill="none" stroke="#d95319" stroke-width="1.5"/>
<circle cx="218.37" cy="370.70" r="3.3" fill="none" stroke="#d95319" stroke-width="1.5"/>
<circle cx="236.11" cy="381.90" r="3.3" fill="none" stroke="#d95319" stroke-width="1.5"/>
<circle cx="253.85" cy="375.90" r="3.3" fill="none" stroke="#d95319" stroke-width="1.5"/>
<circle cx="271.59" cy="376.50" r="3.3" fill="none" stroke="#d95319" stroke-width="1.5"/>
<circle cx="289.33" cy="387.70" r="3.3" fill="none" stroke="#d95319" stroke-width="1.5"/>
<circle cx="307.06" cy="391.50" r="3.3" fill="none" stroke="#d95319" stroke-width="1.5"/>
<circle cx="342.54" cy="397.90" r="3.3" fill="none" stroke="#d95319" stroke-width="1.5"/>
<circle cx="378.01" cy="400.00" r="3.3" fill="none" stroke="#d95319" stroke-width="1.5"/>
<circle cx="395.75" cy="404.90" r="3.3" fill="none" stroke="#d95319" stroke-width="1.5"/>
<circle cx="413.49" cy="407.80" r="3.3" fill="none" stroke="#d95319" stroke-width="1.5"/>
<circle cx="431.23" cy="405.40" r="3.3" fill="none" stroke="#d95319" stroke-width="1.5"/>
<polyline points="94.21,327.40 111.95,337.30 129.69,352.70 147.42,363.70 165.16,368.60 182.90,372.30 200.64,374.20 218.37,376.00 236.11,377.00 253.85,378.30 271.59,378.80 289.33,378.90 307.06,378.90 324.80,379.20 342.54,378.90 360.28,378.20 378.01,377.40 395.75,376.70 413.49,376.00 431.23,375.20" fill="none" stroke="#2b2b2b" stroke-width="1.3" stroke-opacity="0.9" stroke-linejoin="round"/>
<polyline points="94.21,329.88 111.95,339.91 129.69,353.91 147.42,364.24 165.16,368.94 182.90,372.70 200.64,374.74 218.37,376.67 236.11,377.67 253.85,379.04 271.59,379.67 289.33,380.31 307.06,380.31 324.80,380.61 342.54,380.31 360.28,379.61 378.01,378.81 395.75,378.11 413.49,377.34 431.23,376.54" fill="none" stroke="#2b2b2b" stroke-width="1.3" stroke-opacity="0.9" stroke-linejoin="round"/>
<polyline points="94.21,332.32 111.95,342.49 129.69,355.09 147.42,364.76 165.16,369.27 182.90,373.10 200.64,375.26 218.37,377.33 236.11,378.33 253.85,379.76 271.59,380.53 289.33,381.69 307.06,381.69 324.80,381.99 342.54,381.69 360.28,380.99 378.01,380.19 395.75,379.49 413.49,378.66 431.23,377.86" fill="none" stroke="#2b2b2b" stroke-width="1.3" stroke-opacity="0.9" stroke-linejoin="round"/>
<polyline points="94.21,334.80 111.95,345.10 129.69,356.30 147.42,365.30 165.16,369.60 182.90,373.50 200.64,375.80 218.37,378.00 236.11,379.00 253.85,380.50 271.59,381.40 289.33,383.10 307.06,383.10 324.80,383.40 342.54,383.10 360.28,382.40 378.01,381.60 395.75,380.90 413.49,380.00 431.23,379.20" fill="none" stroke="#2b2b2b" stroke-width="1.3" stroke-opacity="0.9" stroke-linejoin="round"/>
<circle cx="94.21" cy="327.40" r="2.5" fill="#333" fill-opacity="0.9" stroke="#262626" stroke-width="1"/>
<circle cx="111.95" cy="337.30" r="2.5" fill="#333" fill-opacity="0.9" stroke="#262626" stroke-width="1"/>
<circle cx="129.69" cy="352.70" r="2.5" fill="#333" fill-opacity="0.9" stroke="#262626" stroke-width="1"/>
<circle cx="147.42" cy="363.70" r="2.5" fill="#333" fill-opacity="0.9" stroke="#262626" stroke-width="1"/>
<circle cx="165.16" cy="368.60" r="2.5" fill="#333" fill-opacity="0.9" stroke="#262626" stroke-width="1"/>
<circle cx="182.90" cy="372.30" r="2.5" fill="#333" fill-opacity="0.9" stroke="#262626" stroke-width="1"/>
<circle cx="200.64" cy="374.20" r="2.5" fill="#333" fill-opacity="0.9" stroke="#262626" stroke-width="1"/>
<circle cx="218.37" cy="376.00" r="2.5" fill="#333" fill-opacity="0.9" stroke="#262626" stroke-width="1"/>
<circle cx="236.11" cy="377.00" r="2.5" fill="#333" fill-opacity="0.9" stroke="#262626" stroke-width="1"/>
<circle cx="253.85" cy="378.30" r="2.5" fill="#333" fill-opacity="0.9" stroke="#262626" stroke-width="1"/>
<circle cx="271.59" cy="378.80" r="2.5" fill="#333" fill-opacity="0.9" stroke="#262626" stroke-width="1"/>
<circle cx="289.33" cy="378.90" r="2.5" fill="#333" fill-opacity="0.9" stroke="#262626" stroke-width="1"/>
<circle cx="307.06" cy="378.90" r="2.5" fill="#333" fill-opacity="0.9" stroke="#262626" stroke-width="1"/>
<circle cx="324.80" cy="379.20" r="2.5" fill="#333" fill-opacity="0.9" stroke="#262626" stroke-width="1"/>
<circle cx="342.54" cy="378.90" r="2.5" fill="#333" fill-opacity="0.9" stroke="#262626" stroke-width="1"/>
<circle cx="360.28" cy="378.20" r="2.5" fill="#333" fill-opacity="0.9" stroke="#262626" stroke-width="1"/>
<circle cx="378.01" cy="377.40" r="2.5" fill="#333" fill-opacity="0.9" stroke="#262626" stroke-width="1"/>
<circle cx="395.75" cy="376.70" r="2.5" fill="#333" fill-opacity="0.9" stroke="#262626" stroke-width="1"/>
<circle cx="413.49" cy="376.00" r="2.5" fill="#333" fill-opacity="0.9" stroke="#262626" stroke-width="1"/>
<circle cx="431.23" cy="375.20" r="2.5" fill="#333" fill-opacity="0.9" stroke="#262626" stroke-width="1"/>
<circle cx="94.21" cy="329.88" r="2.5" fill="#333" fill-opacity="0.9" stroke="#262626" stroke-width="1"/>
<circle cx="111.95" cy="339.91" r="2.5" fill="#333" fill-opacity="0.9" stroke="#262626" stroke-width="1"/>
<circle cx="129.69" cy="353.91" r="2.5" fill="#333" fill-opacity="0.9" stroke="#262626" stroke-width="1"/>
<circle cx="147.42" cy="364.24" r="2.5" fill="#333" fill-opacity="0.9" stroke="#262626" stroke-width="1"/>
<circle cx="165.16" cy="368.94" r="2.5" fill="#333" fill-opacity="0.9" stroke="#262626" stroke-width="1"/>
<circle cx="182.90" cy="372.70" r="2.5" fill="#333" fill-opacity="0.9" stroke="#262626" stroke-width="1"/>
<circle cx="200.64" cy="374.74" r="2.5" fill="#333" fill-opacity="0.9" stroke="#262626" stroke-width="1"/>
<circle cx="218.37" cy="376.67" r="2.5" fill="#333" fill-opacity="0.9" stroke="#262626" stroke-width="1"/>
<circle cx="236.11" cy="377.67" r="2.5" fill="#333" fill-opacity="0.9" stroke="#262626" stroke-width="1"/>
<circle cx="253.85" cy="379.04" r="2.5" fill="#333" fill-opacity="0.9" stroke="#262626" stroke-width="1"/>
<circle cx="271.59" cy="379.67" r="2.5" fill="#333" fill-opacity="0.9" stroke="#262626" stroke-width="1"/>
<circle cx="289.33" cy="380.31" r="2.5" fill="#333" fill-opacity="0.9" stroke="#262626" stroke-width="1"/>
<circle cx="307.06" cy="380.31" r="2.5" fill="#333" fill-opacity="0.9" stroke="#262626" stroke-width="1"/>
<circle cx="324.80" cy="380.61" r="2.5" fill="#333" fill-opacity="0.9" stroke="#262626" stroke-width="1"/>
<circle cx="342.54" cy="380.31" r="2.5" fill="#333" fill-opacity="0.9" stroke="#262626" stroke-width="1"/>
<circle cx="360.28" cy="379.61" r="2.5" fill="#333" fill-opacity="0.9" stroke="#262626" stroke-width="1"/>
<circle cx="378.01" cy="378.81" r="2.5" fill="#333" fill-opacity="0.9" stroke="#262626" stroke-width="1"/>
<circle cx="395.75" cy="378.11" r="2.5" fill="#333" fill-opacity="0.9" stroke="#262626" stroke-width="1"/>
<circle cx="413.49" cy="377.34" r="2.5" fill="#333" fill-opacity="0.9" stroke="#262626" stroke-width="1"/>
<circle cx="431.23" cy="376.54" r="2.5" fill="#333" fill-opacity="0.9" stroke="#262626" stroke-width="1"/>
<circle cx="94.21" cy="332.32" r="2.5" fill="#333" fill-opacity="0.9" stroke="#262626" stroke-width="1"/>
<circle cx="111.95" cy="342.49" r="2.5" fill="#333" fill-opacity="0.9" stroke="#262626" stroke-width="1"/>
<circle cx="129.69" cy="355.09" r="2.5" fill="#333" fill-opacity="0.9" stroke="#262626" stroke-width="1"/>
<circle cx="147.42" cy="364.76" r="2.5" fill="#333" fill-opacity="0.9" stroke="#262626" stroke-width="1"/>
<circle cx="165.16" cy="369.27" r="2.5" fill="#333" fill-opacity="0.9" stroke="#262626" stroke-width="1"/>
<circle cx="182.90" cy="373.10" r="2.5" fill="#333" fill-opacity="0.9" stroke="#262626" stroke-width="1"/>
<circle cx="200.64" cy="375.26" r="2.5" fill="#333" fill-opacity="0.9" stroke="#262626" stroke-width="1"/>
<circle cx="218.37" cy="377.33" r="2.5" fill="#333" fill-opacity="0.9" stroke="#262626" stroke-width="1"/>
<circle cx="236.11" cy="378.33" r="2.5" fill="#333" fill-opacity="0.9" stroke="#262626" stroke-width="1"/>
<circle cx="253.85" cy="379.76" r="2.5" fill="#333" fill-opacity="0.9" stroke="#262626" stroke-width="1"/>
<circle cx="271.59" cy="380.53" r="2.5" fill="#333" fill-opacity="0.9" stroke="#262626" stroke-width="1"/>
<circle cx="289.33" cy="381.69" r="2.5" fill="#333" fill-opacity="0.9" stroke="#262626" stroke-width="1"/>
<circle cx="307.06" cy="381.69" r="2.5" fill="#333" fill-opacity="0.9" stroke="#262626" stroke-width="1"/>
<circle cx="324.80" cy="381.99" r="2.5" fill="#333" fill-opacity="0.9" stroke="#262626" stroke-width="1"/>
<circle cx="342.54" cy="381.69" r="2.5" fill="#333" fill-opacity="0.9" stroke="#262626" stroke-width="1"/>
<circle cx="360.28" cy="380.99" r="2.5" fill="#333" fill-opacity="0.9" stroke="#262626" stroke-width="1"/>
<circle cx="378.01" cy="380.19" r="2.5" fill="#333" fill-opacity="0.9" stroke="#262626" stroke-width="1"/>
<circle cx="395.75" cy="379.49" r="2.5" fill="#333" fill-opacity="0.9" stroke="#262626" stroke-width="1"/>
<circle cx="413.49" cy="378.66" r="2.5" fill="#333" fill-opacity="0.9" stroke="#262626" stroke-width="1"/>
<circle cx="431.23" cy="377.86" r="2.5" fill="#333" fill-opacity="0.9" stroke="#262626" stroke-width="1"/>
<circle cx="94.21" cy="334.80" r="2.5" fill="#333" fill-opacity="0.9" stroke="#262626" stroke-width="1"/>
<circle cx="111.95" cy="345.10" r="2.5" fill="#333" fill-opacity="0.9" stroke="#262626" stroke-width="1"/>
<circle cx="129.69" cy="356.30" r="2.5" fill="#333" fill-opacity="0.9" stroke="#262626" stroke-width="1"/>
<circle cx="147.42" cy="365.30" r="2.5" fill="#333" fill-opacity="0.9" stroke="#262626" stroke-width="1"/>
<circle cx="165.16" cy="369.60" r="2.5" fill="#333" fill-opacity="0.9" stroke="#262626" stroke-width="1"/>
<circle cx="182.90" cy="373.50" r="2.5" fill="#333" fill-opacity="0.9" stroke="#262626" stroke-width="1"/>
<circle cx="200.64" cy="375.80" r="2.5" fill="#333" fill-opacity="0.9" stroke="#262626" stroke-width="1"/>
<circle cx="218.37" cy="378.00" r="2.5" fill="#333" fill-opacity="0.9" stroke="#262626" stroke-width="1"/>
<circle cx="236.11" cy="379.00" r="2.5" fill="#333" fill-opacity="0.9" stroke="#262626" stroke-width="1"/>
<circle cx="253.85" cy="380.50" r="2.5" fill="#333" fill-opacity="0.9" stroke="#262626" stroke-width="1"/>
<circle cx="271.59" cy="381.40" r="2.5" fill="#333" fill-opacity="0.9" stroke="#262626" stroke-width="1"/>
<circle cx="289.33" cy="383.10" r="2.5" fill="#333" fill-opacity="0.9" stroke="#262626" stroke-width="1"/>
<circle cx="307.06" cy="383.10" r="2.5" fill="#333" fill-opacity="0.9" stroke="#262626" stroke-width="1"/>
<circle cx="324.80" cy="383.40" r="2.5" fill="#333" fill-opacity="0.9" stroke="#262626" stroke-width="1"/>
<circle cx="342.54" cy="383.10" r="2.5" fill="#333" fill-opacity="0.9" stroke="#262626" stroke-width="1"/>
<circle cx="360.28" cy="382.40" r="2.5" fill="#333" fill-opacity="0.9" stroke="#262626" stroke-width="1"/>
<circle cx="378.01" cy="381.60" r="2.5" fill="#333" fill-opacity="0.9" stroke="#262626" stroke-width="1"/>
<circle cx="395.75" cy="380.90" r="2.5" fill="#333" fill-opacity="0.9" stroke="#262626" stroke-width="1"/>
<circle cx="413.49" cy="380.00" r="2.5" fill="#333" fill-opacity="0.9" stroke="#262626" stroke-width="1"/>
<circle cx="431.23" cy="379.20" r="2.5" fill="#333" fill-opacity="0.9" stroke="#262626" stroke-width="1"/>
<line x1="54.30" y1="446.50" x2="54.30" y2="448.90" stroke="#3a3a3a" stroke-width="1.1" />
<line x1="54.30" y1="242.20" x2="54.30" y2="239.80" stroke="#3a3a3a" stroke-width="1.1" />
<line x1="65.39" y1="446.50" x2="65.39" y2="448.90" stroke="#3a3a3a" stroke-width="1.1" />
<line x1="65.39" y1="242.20" x2="65.39" y2="239.80" stroke="#3a3a3a" stroke-width="1.1" />
<line x1="76.47" y1="446.50" x2="76.47" y2="448.90" stroke="#3a3a3a" stroke-width="1.1" />
<line x1="76.47" y1="242.20" x2="76.47" y2="239.80" stroke="#3a3a3a" stroke-width="1.1" />
<line x1="87.56" y1="446.50" x2="87.56" y2="448.90" stroke="#3a3a3a" stroke-width="1.1" />
<line x1="87.56" y1="242.20" x2="87.56" y2="239.80" stroke="#3a3a3a" stroke-width="1.1" />
<line x1="98.64" y1="446.50" x2="98.64" y2="448.90" stroke="#3a3a3a" stroke-width="1.1" />
<line x1="98.64" y1="242.20" x2="98.64" y2="239.80" stroke="#3a3a3a" stroke-width="1.1" />
<line x1="109.73" y1="446.50" x2="109.73" y2="448.90" stroke="#3a3a3a" stroke-width="1.1" />
<line x1="109.73" y1="242.20" x2="109.73" y2="239.80" stroke="#3a3a3a" stroke-width="1.1" />
<line x1="120.82" y1="446.50" x2="120.82" y2="448.90" stroke="#3a3a3a" stroke-width="1.1" />
<line x1="120.82" y1="242.20" x2="120.82" y2="239.80" stroke="#3a3a3a" stroke-width="1.1" />
<line x1="131.90" y1="446.50" x2="131.90" y2="448.90" stroke="#3a3a3a" stroke-width="1.1" />
<line x1="131.90" y1="242.20" x2="131.90" y2="239.80" stroke="#3a3a3a" stroke-width="1.1" />
<line x1="142.99" y1="446.50" x2="142.99" y2="448.90" stroke="#3a3a3a" stroke-width="1.1" />
<line x1="142.99" y1="242.20" x2="142.99" y2="239.80" stroke="#3a3a3a" stroke-width="1.1" />
<line x1="154.07" y1="446.50" x2="154.07" y2="448.90" stroke="#3a3a3a" stroke-width="1.1" />
<line x1="154.07" y1="242.20" x2="154.07" y2="239.80" stroke="#3a3a3a" stroke-width="1.1" />
<line x1="165.16" y1="446.50" x2="165.16" y2="448.90" stroke="#3a3a3a" stroke-width="1.1" />
<line x1="165.16" y1="242.20" x2="165.16" y2="239.80" stroke="#3a3a3a" stroke-width="1.1" />
<line x1="176.25" y1="446.50" x2="176.25" y2="448.90" stroke="#3a3a3a" stroke-width="1.1" />
<line x1="176.25" y1="242.20" x2="176.25" y2="239.80" stroke="#3a3a3a" stroke-width="1.1" />
<line x1="187.33" y1="446.50" x2="187.33" y2="448.90" stroke="#3a3a3a" stroke-width="1.1" />
<line x1="187.33" y1="242.20" x2="187.33" y2="239.80" stroke="#3a3a3a" stroke-width="1.1" />
<line x1="198.42" y1="446.50" x2="198.42" y2="448.90" stroke="#3a3a3a" stroke-width="1.1" />
<line x1="198.42" y1="242.20" x2="198.42" y2="239.80" stroke="#3a3a3a" stroke-width="1.1" />
<line x1="209.51" y1="446.50" x2="209.51" y2="448.90" stroke="#3a3a3a" stroke-width="1.1" />
<line x1="209.51" y1="242.20" x2="209.51" y2="239.80" stroke="#3a3a3a" stroke-width="1.1" />
<line x1="220.59" y1="446.50" x2="220.59" y2="448.90" stroke="#3a3a3a" stroke-width="1.1" />
<line x1="220.59" y1="242.20" x2="220.59" y2="239.80" stroke="#3a3a3a" stroke-width="1.1" />
<line x1="231.68" y1="446.50" x2="231.68" y2="448.90" stroke="#3a3a3a" stroke-width="1.1" />
<line x1="231.68" y1="242.20" x2="231.68" y2="239.80" stroke="#3a3a3a" stroke-width="1.1" />
<line x1="242.76" y1="446.50" x2="242.76" y2="448.90" stroke="#3a3a3a" stroke-width="1.1" />
<line x1="242.76" y1="242.20" x2="242.76" y2="239.80" stroke="#3a3a3a" stroke-width="1.1" />
<line x1="253.85" y1="446.50" x2="253.85" y2="448.90" stroke="#3a3a3a" stroke-width="1.1" />
<line x1="253.85" y1="242.20" x2="253.85" y2="239.80" stroke="#3a3a3a" stroke-width="1.1" />
<line x1="264.94" y1="446.50" x2="264.94" y2="448.90" stroke="#3a3a3a" stroke-width="1.1" />
<line x1="264.94" y1="242.20" x2="264.94" y2="239.80" stroke="#3a3a3a" stroke-width="1.1" />
<line x1="276.02" y1="446.50" x2="276.02" y2="448.90" stroke="#3a3a3a" stroke-width="1.1" />
<line x1="276.02" y1="242.20" x2="276.02" y2="239.80" stroke="#3a3a3a" stroke-width="1.1" />
<line x1="287.11" y1="446.50" x2="287.11" y2="448.90" stroke="#3a3a3a" stroke-width="1.1" />
<line x1="287.11" y1="242.20" x2="287.11" y2="239.80" stroke="#3a3a3a" stroke-width="1.1" />
<line x1="298.19" y1="446.50" x2="298.19" y2="448.90" stroke="#3a3a3a" stroke-width="1.1" />
<line x1="298.19" y1="242.20" x2="298.19" y2="239.80" stroke="#3a3a3a" stroke-width="1.1" />
<line x1="309.28" y1="446.50" x2="309.28" y2="448.90" stroke="#3a3a3a" stroke-width="1.1" />
<line x1="309.28" y1="242.20" x2="309.28" y2="239.80" stroke="#3a3a3a" stroke-width="1.1" />
<line x1="320.37" y1="446.50" x2="320.37" y2="448.90" stroke="#3a3a3a" stroke-width="1.1" />
<line x1="320.37" y1="242.20" x2="320.37" y2="239.80" stroke="#3a3a3a" stroke-width="1.1" />
<line x1="331.45" y1="446.50" x2="331.45" y2="448.90" stroke="#3a3a3a" stroke-width="1.1" />
<line x1="331.45" y1="242.20" x2="331.45" y2="239.80" stroke="#3a3a3a" stroke-width="1.1" />
<line x1="342.54" y1="446.50" x2="342.54" y2="448.90" stroke="#3a3a3a" stroke-width="1.1" />
<line x1="342.54" y1="242.20" x2="342.54" y2="239.80" stroke="#3a3a3a" stroke-width="1.1" />
<line x1="353.62" y1="446.50" x2="353.62" y2="448.90" stroke="#3a3a3a" stroke-width="1.1" />
<line x1="353.62" y1="242.20" x2="353.62" y2="239.80" stroke="#3a3a3a" stroke-width="1.1" />
<line x1="364.71" y1="446.50" x2="364.71" y2="448.90" stroke="#3a3a3a" stroke-width="1.1" />
<line x1="364.71" y1="242.20" x2="364.71" y2="239.80" stroke="#3a3a3a" stroke-width="1.1" />
<line x1="375.80" y1="446.50" x2="375.80" y2="448.90" stroke="#3a3a3a" stroke-width="1.1" />
<line x1="375.80" y1="242.20" x2="375.80" y2="239.80" stroke="#3a3a3a" stroke-width="1.1" />
<line x1="386.88" y1="446.50" x2="386.88" y2="448.90" stroke="#3a3a3a" stroke-width="1.1" />
<line x1="386.88" y1="242.20" x2="386.88" y2="239.80" stroke="#3a3a3a" stroke-width="1.1" />
<line x1="397.97" y1="446.50" x2="397.97" y2="448.90" stroke="#3a3a3a" stroke-width="1.1" />
<line x1="397.97" y1="242.20" x2="397.97" y2="239.80" stroke="#3a3a3a" stroke-width="1.1" />
<line x1="409.06" y1="446.50" x2="409.06" y2="448.90" stroke="#3a3a3a" stroke-width="1.1" />
<line x1="409.06" y1="242.20" x2="409.06" y2="239.80" stroke="#3a3a3a" stroke-width="1.1" />
<line x1="420.14" y1="446.50" x2="420.14" y2="448.90" stroke="#3a3a3a" stroke-width="1.1" />
<line x1="420.14" y1="242.20" x2="420.14" y2="239.80" stroke="#3a3a3a" stroke-width="1.1" />
<line x1="431.23" y1="446.50" x2="431.23" y2="448.90" stroke="#3a3a3a" stroke-width="1.1" />
<line x1="431.23" y1="242.20" x2="431.23" y2="239.80" stroke="#3a3a3a" stroke-width="1.1" />
<line x1="442.31" y1="446.50" x2="442.31" y2="448.90" stroke="#3a3a3a" stroke-width="1.1" />
<line x1="442.31" y1="242.20" x2="442.31" y2="239.80" stroke="#3a3a3a" stroke-width="1.1" />
<line x1="453.40" y1="446.50" x2="453.40" y2="448.90" stroke="#3a3a3a" stroke-width="1.1" />
<line x1="453.40" y1="242.20" x2="453.40" y2="239.80" stroke="#3a3a3a" stroke-width="1.1" />
<line x1="54.30" y1="446.50" x2="54.30" y2="450.90" stroke="#3a3a3a" stroke-width="1.1" />
<line x1="54.30" y1="242.20" x2="54.30" y2="237.80" stroke="#3a3a3a" stroke-width="1.1" />
<line x1="98.64" y1="446.50" x2="98.64" y2="450.90" stroke="#3a3a3a" stroke-width="1.1" />
<line x1="98.64" y1="242.20" x2="98.64" y2="237.80" stroke="#3a3a3a" stroke-width="1.1" />
<line x1="142.99" y1="446.50" x2="142.99" y2="450.90" stroke="#3a3a3a" stroke-width="1.1" />
<line x1="142.99" y1="242.20" x2="142.99" y2="237.80" stroke="#3a3a3a" stroke-width="1.1" />
<line x1="187.33" y1="446.50" x2="187.33" y2="450.90" stroke="#3a3a3a" stroke-width="1.1" />
<line x1="187.33" y1="242.20" x2="187.33" y2="237.80" stroke="#3a3a3a" stroke-width="1.1" />
<line x1="231.68" y1="446.50" x2="231.68" y2="450.90" stroke="#3a3a3a" stroke-width="1.1" />
<line x1="231.68" y1="242.20" x2="231.68" y2="237.80" stroke="#3a3a3a" stroke-width="1.1" />
<line x1="276.02" y1="446.50" x2="276.02" y2="450.90" stroke="#3a3a3a" stroke-width="1.1" />
<line x1="276.02" y1="242.20" x2="276.02" y2="237.80" stroke="#3a3a3a" stroke-width="1.1" />
<line x1="320.37" y1="446.50" x2="320.37" y2="450.90" stroke="#3a3a3a" stroke-width="1.1" />
<line x1="320.37" y1="242.20" x2="320.37" y2="237.80" stroke="#3a3a3a" stroke-width="1.1" />
<line x1="364.71" y1="446.50" x2="364.71" y2="450.90" stroke="#3a3a3a" stroke-width="1.1" />
<line x1="364.71" y1="242.20" x2="364.71" y2="237.80" stroke="#3a3a3a" stroke-width="1.1" />
<line x1="409.06" y1="446.50" x2="409.06" y2="450.90" stroke="#3a3a3a" stroke-width="1.1" />
<line x1="409.06" y1="242.20" x2="409.06" y2="237.80" stroke="#3a3a3a" stroke-width="1.1" />
<line x1="453.40" y1="446.50" x2="453.40" y2="450.90" stroke="#3a3a3a" stroke-width="1.1" />
<line x1="453.40" y1="242.20" x2="453.40" y2="237.80" stroke="#3a3a3a" stroke-width="1.1" />
<line x1="54.30" y1="446.50" x2="51.70" y2="446.50" stroke="#3a3a3a" stroke-width="1.1" />
<line x1="453.40" y1="446.50" x2="456.00" y2="446.50" stroke="#3a3a3a" stroke-width="1.1" />
<line x1="54.30" y1="438.58" x2="51.70" y2="438.58" stroke="#3a3a3a" stroke-width="1.1" />
<line x1="453.40" y1="438.58" x2="456.00" y2="438.58" stroke="#3a3a3a" stroke-width="1.1" />
<line x1="54.30" y1="432.43" x2="51.70" y2="432.43" stroke="#3a3a3a" stroke-width="1.1" />
<line x1="453.40" y1="432.43" x2="456.00" y2="432.43" stroke="#3a3a3a" stroke-width="1.1" />
<line x1="54.30" y1="427.41" x2="51.70" y2="427.41" stroke="#3a3a3a" stroke-width="1.1" />
<line x1="453.40" y1="427.41" x2="456.00" y2="427.41" stroke="#3a3a3a" stroke-width="1.1" />
<line x1="54.30" y1="423.17" x2="51.70" y2="423.17" stroke="#3a3a3a" stroke-width="1.1" />
<line x1="453.40" y1="423.17" x2="456.00" y2="423.17" stroke="#3a3a3a" stroke-width="1.1" />
<line x1="54.30" y1="419.49" x2="51.70" y2="419.49" stroke="#3a3a3a" stroke-width="1.1" />
<line x1="453.40" y1="419.49" x2="456.00" y2="419.49" stroke="#3a3a3a" stroke-width="1.1" />
<line x1="54.30" y1="416.25" x2="51.70" y2="416.25" stroke="#3a3a3a" stroke-width="1.1" />
<line x1="453.40" y1="416.25" x2="456.00" y2="416.25" stroke="#3a3a3a" stroke-width="1.1" />
<line x1="54.30" y1="394.26" x2="51.70" y2="394.26" stroke="#3a3a3a" stroke-width="1.1" />
<line x1="453.40" y1="394.26" x2="456.00" y2="394.26" stroke="#3a3a3a" stroke-width="1.1" />
<line x1="54.30" y1="383.09" x2="51.70" y2="383.09" stroke="#3a3a3a" stroke-width="1.1" />
<line x1="453.40" y1="383.09" x2="456.00" y2="383.09" stroke="#3a3a3a" stroke-width="1.1" />
<line x1="54.30" y1="375.17" x2="51.70" y2="375.17" stroke="#3a3a3a" stroke-width="1.1" />
<line x1="453.40" y1="375.17" x2="456.00" y2="375.17" stroke="#3a3a3a" stroke-width="1.1" />
<line x1="54.30" y1="369.02" x2="51.70" y2="369.02" stroke="#3a3a3a" stroke-width="1.1" />
<line x1="453.40" y1="369.02" x2="456.00" y2="369.02" stroke="#3a3a3a" stroke-width="1.1" />
<line x1="54.30" y1="364.00" x2="51.70" y2="364.00" stroke="#3a3a3a" stroke-width="1.1" />
<line x1="453.40" y1="364.00" x2="456.00" y2="364.00" stroke="#3a3a3a" stroke-width="1.1" />
<line x1="54.30" y1="359.76" x2="51.70" y2="359.76" stroke="#3a3a3a" stroke-width="1.1" />
<line x1="453.40" y1="359.76" x2="456.00" y2="359.76" stroke="#3a3a3a" stroke-width="1.1" />
<line x1="54.30" y1="356.08" x2="51.70" y2="356.08" stroke="#3a3a3a" stroke-width="1.1" />
<line x1="453.40" y1="356.08" x2="456.00" y2="356.08" stroke="#3a3a3a" stroke-width="1.1" />
<line x1="54.30" y1="352.83" x2="51.70" y2="352.83" stroke="#3a3a3a" stroke-width="1.1" />
<line x1="453.40" y1="352.83" x2="456.00" y2="352.83" stroke="#3a3a3a" stroke-width="1.1" />
<line x1="54.30" y1="330.84" x2="51.70" y2="330.84" stroke="#3a3a3a" stroke-width="1.1" />
<line x1="453.40" y1="330.84" x2="456.00" y2="330.84" stroke="#3a3a3a" stroke-width="1.1" />
<line x1="54.30" y1="319.68" x2="51.70" y2="319.68" stroke="#3a3a3a" stroke-width="1.1" />
<line x1="453.40" y1="319.68" x2="456.00" y2="319.68" stroke="#3a3a3a" stroke-width="1.1" />
<line x1="54.30" y1="311.76" x2="51.70" y2="311.76" stroke="#3a3a3a" stroke-width="1.1" />
<line x1="453.40" y1="311.76" x2="456.00" y2="311.76" stroke="#3a3a3a" stroke-width="1.1" />
<line x1="54.30" y1="305.61" x2="51.70" y2="305.61" stroke="#3a3a3a" stroke-width="1.1" />
<line x1="453.40" y1="305.61" x2="456.00" y2="305.61" stroke="#3a3a3a" stroke-width="1.1" />
<line x1="54.30" y1="300.59" x2="51.70" y2="300.59" stroke="#3a3a3a" stroke-width="1.1" />
<line x1="453.40" y1="300.59" x2="456.00" y2="300.59" stroke="#3a3a3a" stroke-width="1.1" />
<line x1="54.30" y1="296.34" x2="51.70" y2="296.34" stroke="#3a3a3a" stroke-width="1.1" />
<line x1="453.40" y1="296.34" x2="456.00" y2="296.34" stroke="#3a3a3a" stroke-width="1.1" />
<line x1="54.30" y1="292.67" x2="51.70" y2="292.67" stroke="#3a3a3a" stroke-width="1.1" />
<line x1="453.40" y1="292.67" x2="456.00" y2="292.67" stroke="#3a3a3a" stroke-width="1.1" />
<line x1="54.30" y1="289.42" x2="51.70" y2="289.42" stroke="#3a3a3a" stroke-width="1.1" />
<line x1="453.40" y1="289.42" x2="456.00" y2="289.42" stroke="#3a3a3a" stroke-width="1.1" />
<line x1="54.30" y1="267.43" x2="51.70" y2="267.43" stroke="#3a3a3a" stroke-width="1.1" />
<line x1="453.40" y1="267.43" x2="456.00" y2="267.43" stroke="#3a3a3a" stroke-width="1.1" />
<line x1="54.30" y1="256.27" x2="51.70" y2="256.27" stroke="#3a3a3a" stroke-width="1.1" />
<line x1="453.40" y1="256.27" x2="456.00" y2="256.27" stroke="#3a3a3a" stroke-width="1.1" />
<line x1="54.30" y1="248.35" x2="51.70" y2="248.35" stroke="#3a3a3a" stroke-width="1.1" />
<line x1="453.40" y1="248.35" x2="456.00" y2="248.35" stroke="#3a3a3a" stroke-width="1.1" />
<line x1="54.30" y1="242.20" x2="51.70" y2="242.20" stroke="#3a3a3a" stroke-width="1.1" />
<line x1="453.40" y1="242.20" x2="456.00" y2="242.20" stroke="#3a3a3a" stroke-width="1.1" />
<line x1="54.30" y1="413.34" x2="49.70" y2="413.34" stroke="#3a3a3a" stroke-width="1.1" />
<line x1="453.40" y1="413.34" x2="458.00" y2="413.34" stroke="#3a3a3a" stroke-width="1.1" />
<line x1="54.30" y1="349.93" x2="49.70" y2="349.93" stroke="#3a3a3a" stroke-width="1.1" />
<line x1="453.40" y1="349.93" x2="458.00" y2="349.93" stroke="#3a3a3a" stroke-width="1.1" />
<line x1="54.30" y1="286.52" x2="49.70" y2="286.52" stroke="#3a3a3a" stroke-width="1.1" />
<line x1="453.40" y1="286.52" x2="458.00" y2="286.52" stroke="#3a3a3a" stroke-width="1.1" />
<rect x="54.3" y="242.2" width="399.09999999999997" height="204.3" fill="none" stroke="#3a3a3a" stroke-width="1.3"/>
<text transform="translate(54.30,466.00) scale(0.9346,1)" font-size="13.3" text-anchor="middle" font-family="Liberation Serif, serif" fill="#333333" >0</text>
<text transform="translate(98.64,466.00) scale(0.9346,1)" font-size="13.3" text-anchor="middle" font-family="Liberation Serif, serif" fill="#333333" >20</text>
<text transform="translate(142.99,466.00) scale(0.9346,1)" font-size="13.3" text-anchor="middle" font-family="Liberation Serif, serif" fill="#333333" >40</text>
<text transform="translate(187.33,466.00) scale(0.9346,1)" font-size="13.3" text-anchor="middle" font-family="Liberation Serif, serif" fill="#333333" >60</text>
<text transform="translate(231.68,466.00) scale(0.9346,1)" font-size="13.3" text-anchor="middle" font-family="Liberation Serif, serif" fill="#333333" >80</text>
<text transform="translate(276.02,466.00) scale(0.9346,1)" font-size="13.3" text-anchor="middle" font-family="Liberation Serif, serif" fill="#333333" >100</text>
<text transform="translate(320.37,466.00) scale(0.9346,1)" font-size="13.3" text-anchor="middle" font-family="Liberation Serif, serif" fill="#333333" >120</text>
<text transform="translate(364.71,466.00) scale(0.9346,1)" font-size="13.3" text-anchor="middle" font-family="Liberation Serif, serif" fill="#333333" >140</text>
<text transform="translate(409.06,466.00) scale(0.9346,1)" font-size="13.3" text-anchor="middle" font-family="Liberation Serif, serif" fill="#333333" >160</text>
<text transform="translate(453.40,466.00) scale(0.9346,1)" font-size="13.3" text-anchor="middle" font-family="Liberation Serif, serif" fill="#333333" >180</text>
<text x="40.80" y="289.62" font-size="12.6" text-anchor="end" font-family="Liberation Serif, serif" fill="#333333" textLength="10.9" lengthAdjust="spacingAndGlyphs">10</text>
<text x="42.30" y="285.82" font-size="8.8" text-anchor="start" font-family="Liberation Serif, serif" fill="#333333">1</text>
<text x="40.80" y="353.03" font-size="12.6" text-anchor="end" font-family="Liberation Serif, serif" fill="#333333" textLength="10.9" lengthAdjust="spacingAndGlyphs">10</text>
<text x="42.30" y="349.23" font-size="8.8" text-anchor="start" font-family="Liberation Serif, serif" fill="#333333">0</text>
<text x="34.10" y="416.44" font-size="12.6" text-anchor="end" font-family="Liberation Serif, serif" fill="#333333" textLength="10.9" lengthAdjust="spacingAndGlyphs">10</text>
<text x="35.60" y="412.64" font-size="8.8" text-anchor="start" font-family="Liberation Serif, serif" fill="#333333">−1</text>
<text transform="translate(61.50,255.50) scale(0.9434,1)" font-size="12.3" text-anchor="start" font-family="Liberation Serif, serif" fill="#333333" >c)</text>
<text transform="translate(15.3,344) rotate(-90)" font-size="14.6" text-anchor="middle" font-family="Liberation Serif, serif" fill="#333333" textLength="89" lengthAdjust="spacing">Phase function</text>
<circle cx="199.7" cy="257.6" r="3.25" fill="none" stroke="#0072bd" stroke-width="1.45"/>
<text x="206.3" y="260.7" font-size="13.1" font-family="Liberation Serif, serif" fill="#333333" textLength="62.5" lengthAdjust="spacing">ML Median</text>
<rect x="195.8" y="268.2" width="7.5" height="10.4" fill="#8fc0e6"/>
<text x="205.8" y="277.8" font-size="13" font-family="Liberation Sans, sans-serif" fill="#1a1a1a" textLength="44" lengthAdjust="spacing">25-75%</text>
<rect x="195.8" y="283.0" width="7.5" height="10.5" fill="#c5dcef"/>
<text x="205.8" y="292.4" font-size="13" font-family="Liberation Sans, sans-serif" fill="#1a1a1a" textLength="38.2" lengthAdjust="spacing">1-99%</text>
<circle cx="279.6" cy="257.6" r="3.25" fill="none" stroke="#d95319" stroke-width="1.45"/>
<text x="286.1" y="260.7" font-size="13.1" font-family="Liberation Serif, serif" fill="#333333" textLength="77" lengthAdjust="spacing">Arctic Median</text>
<rect x="276.2" y="267.8" width="6.9" height="10" fill="#f0b8a3"/>
<text x="286.1" y="277.8" font-size="13" font-family="Liberation Sans, sans-serif" fill="#1a1a1a" textLength="44" lengthAdjust="spacing">25-75%</text>
<rect x="276.2" y="282.8" width="6.9" height="10.3" fill="#f6d8cc"/>
<text x="286.1" y="292.4" font-size="13" font-family="Liberation Sans, sans-serif" fill="#1a1a1a" textLength="38.2" lengthAdjust="spacing">1-99%</text>
<circle cx="373.9" cy="257.5" r="2.05" fill="#b0b0b0" stroke="#333" stroke-width="1.25"/>
<text x="380.5" y="260.7" font-size="13.1" font-family="Liberation Serif, serif" fill="#333333" textLength="62.9" lengthAdjust="spacing">Ray tracing</text>
</svg>
</body></html>
